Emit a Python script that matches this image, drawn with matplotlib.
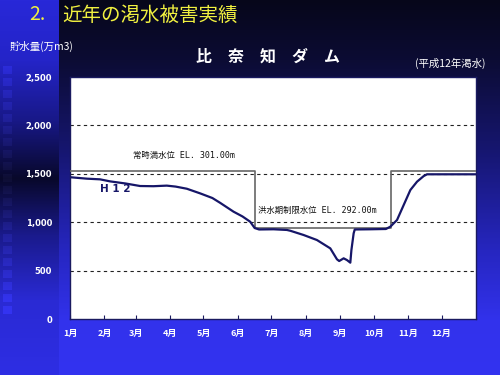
import numpy as np
import matplotlib
matplotlib.use('Agg')
import matplotlib.pyplot as plt

plt.rcParams['font.family'] = ['Noto Sans CJK JP', 'DejaVu Sans']

# storage of the dam, day of year -> 万m3
days = [0, 15, 27, 36, 50, 63, 75, 87, 95, 105, 117, 128, 135, 147, 155, 162, 166,
        170, 183, 195, 198, 210, 222, 234, 240, 242, 246, 249, 252, 253, 255, 256,
        270, 284, 288, 294, 300, 306, 312, 318, 321, 365]
storage = [1465, 1450, 1443, 1422, 1400, 1374, 1372, 1378, 1368, 1346, 1298, 1250, 1200,
           1109, 1060, 1005, 940, 925, 927, 920, 912, 868, 816, 730, 617, 599, 627, 609,
           582, 713, 885, 925, 927, 930, 954, 1023, 1178, 1333, 1419, 1477, 1495, 1495]

# operating rule: normal full level / flood season limit
rule_days = [0, 166, 166, 289, 289, 365]
rule_vals = [1530, 1530, 940, 940, 1530, 1530]

month_starts = [0, 31, 59, 90, 120, 151, 181, 212, 243, 273, 304, 334]
month_labels = ['1月', '2月', '3月', '4月', '5月', '6月', '7月', '8月', '9月', '10月', '11月', '12月']
y_ticks = [0, 500, 1000, 1500, 2000, 2500]
y_labels = ['0', '500', '1,000', '1,500', '2,000', '2,500']

fig = plt.figure(figsize=(5, 3.75), dpi=100)

# background: dark navy -> blue gradient, patterned strip on the left
H, W = 375, 500
rows = np.arange(H)
img = np.zeros((H, W, 3))
main_y = [0, 60, 150, 250, 320, 375]
main_c = [(6, 6, 26), (12, 12, 52), (22, 22, 112), (38, 38, 192), (50, 50, 236), (51, 51, 240)]
for ch in range(3):
    img[:, :, ch] = np.interp(rows, main_y, [c[ch] for c in main_c])[:, None]
strip_y = [0, 60, 120, 178, 235, 300, 375]
strip_c = [(40, 40, 216), (36, 36, 200), (24, 24, 135), (8, 8, 42), (26, 26, 140), (42, 42, 212), (46, 46, 228)]
for ch in range(3):
    img[:, :59, ch] = np.interp(rows, strip_y, [c[ch] for c in strip_c])[:, None]
for y0 in range(66, 318, 12):
    img[y0:y0 + 8, 3:12] = np.clip(img[y0:y0 + 8, 3:12] * 1.1 + 5, 0, 255)
bg = fig.add_axes([0, 0, 1, 1], zorder=-1)
bg.imshow(img.astype(np.uint8), aspect='auto', extent=(0, 1, 0, 1))
bg.axis('off')

ax = fig.add_axes([0.14, 0.1493, 0.812, 0.6453])
ax.set_facecolor('white')
ax.plot(rule_days, rule_vals, color='#666666', lw=1.2, zorder=3)
ax.plot(days, storage, color='#161668', lw=1.6, zorder=4)

for v in y_ticks[1:-1]:
    ax.axhline(v, color='#222222', lw=0.8, ls=(0, (3, 3)), zorder=2)

ax.set_xlim(0, 365)
ax.set_ylim(0, 2500)
ax.set_xticks(month_starts)
ax.set_xticklabels(month_labels, color='white', fontsize=6.5, fontweight='bold')
ax.set_yticks(y_ticks)
ax.set_yticklabels(y_labels, color='white', fontsize=6, fontweight='bold', family='DejaVu Sans')
ax.tick_params(axis='x', direction='in', length=3, width=0.8, color='#1a1a60', pad=7)
ax.tick_params(axis='y', length=0, pad=13)
for s in ax.spines.values():
    s.set_color('#1a1a60')
    s.set_linewidth(1)

label_font = ['DejaVu Sans Mono', 'Noto Sans CJK JP']
ax.text(57, 1690, '常時満水位 EL. 301.00m', fontsize=6, color='#111111', va='center',
        family=label_font)
ax.text(169, 1126, '洪水期制限水位 EL. 292.00m', fontsize=6, color='#111111', va='center',
        family=label_font)
ax.text(27, 1343, 'H 1 2', fontsize=7.5, color='#161668', fontweight='bold',
        family='DejaVu Sans', va='center')

fig.text(0.058, 0.96, '2.', color='#f0f040', fontsize=14, va='center', ha='left')
fig.text(0.124, 0.96, '近年の渇水被害実績', color='#f0f040', fontsize=14, va='center', ha='left')
fig.text(0.02, 0.875, '貯水量(万m3)', color='white', fontsize=7.5, va='center', ha='left')
fig.text(0.536, 0.848, '比　奈　知　ダ　ム', color='white', fontsize=11.5, fontweight='bold',
         va='center', ha='center')
fig.text(0.97, 0.832, '(平成12年渇水)', color='white', fontsize=7.5, va='center', ha='right')

fig.savefig('out.png', dpi=100)
